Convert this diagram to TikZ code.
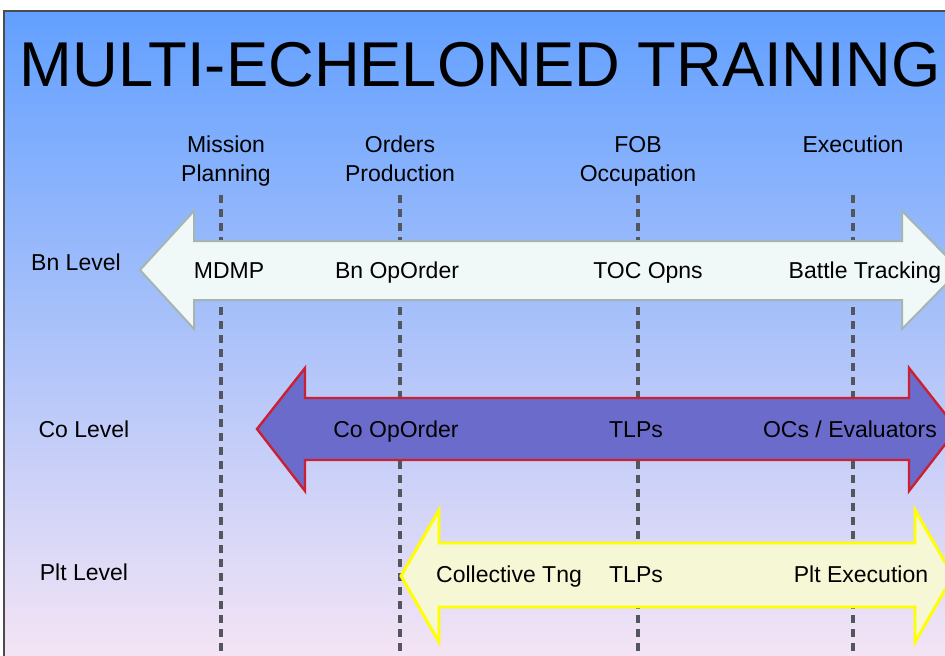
\documentclass[tikz,border=0pt]{standalone}
\usepackage{fontspec}
\setmainfont{Liberation Sans}
\usepackage{tikz}

\definecolor{bgtop}{RGB}{98,160,255}
\definecolor{bgmid}{RGB}{152,198,248}
\definecolor{bgbot}{RGB}{244,228,245}
\definecolor{linegray}{RGB}{84,86,94}
\definecolor{bnfill}{RGB}{240,248,248}
\definecolor{bnedge}{RGB}{165,182,176}
\definecolor{cofill}{RGB}{107,107,204}
\definecolor{coedge}{RGB}{204,32,48}
\definecolor{pltfill}{RGB}{245,247,213}
\definecolor{pltedge}{RGB}{255,255,0}

\begin{document}
\begin{tikzpicture}[x=0.75pt, y=-0.75pt]
  \tikzset{txt/.style={font=\fontsize{17.25}{21.75}\selectfont, inner sep=0pt},
           phase/.style={txt, align=center, anchor=north},
           level/.style={txt, anchor=base},
           task/.style={txt, anchor=base},
           timeline/.style={draw=linegray, line width=2.3pt, dash pattern=on 6pt off 4.5pt},
           bnarrow/.style={fill=bnfill, draw=bnedge, line width=1.5pt},
           coarrow/.style={fill=cofill, draw=coedge, line width=1.8pt},
           pltarrow/.style={fill=pltfill, draw=pltedge, line width=2.2pt}}
  \useasboundingbox[fill=white] (0,0) rectangle (945,656);
  \begin{scope}
    \clip (4,11) rectangle (945,656);
    \fill[top color=bgtop, middle color=bgmid, bottom color=bgbot] (4,11) rectangle (945,656);
    % time lines
    \foreach \x in {221,400,638,853}
      \draw[timeline] (\x,195) -- (\x,656);
    % echelon arrows
    \draw[bnarrow] (140,270) -- (194,211) -- (194,241) -- (902,241) -- (902,211) -- (960,270)
                   -- (902,329) -- (902,300) -- (194,300) -- (194,329) -- cycle;
    \draw[coarrow] (257,429) -- (305,368) -- (305,398) -- (909,398) -- (909,368) -- (957,429)
                   -- (909,491) -- (909,460) -- (305,460) -- (305,491) -- cycle;
    \draw[pltarrow] (401,576) -- (439,510) -- (439,543) -- (915,543) -- (915,510) -- (953,576)
                    -- (915,642) -- (915,607) -- (439,607) -- (439,642) -- cycle;
  \end{scope}
  \draw[draw=black!70, line width=1.1pt] (4,656) -- (4,11) -- (945,11);

  \node[anchor=base, inner sep=0pt, font=\fontsize{47.5}{50}\selectfont] (title) at (480,87) {MULTI-ECHELONED TRAINING};

  \node[phase] (mission) at (226,136) {Mission\\Planning};
  \node[phase] (orders) at (400,136) {Orders\\Production};
  \node[phase] (fob) at (638,136) {FOB\\Occupation};
  \node[phase] (execution) at (853,136) {Execution};

  \node[level] (bnlevel) at (76,270) {Bn Level};
  \node[level] (colevel) at (84,437) {Co Level};
  \node[level] (pltlevel) at (84,580) {Plt Level};

  \node[task] (mdmp) at (229,278) {MDMP};
  \node[task] (bnorder) at (397,278) {Bn OpOrder};
  \node[task] (tocopns) at (648,278) {TOC Opns};
  \node[task] (battletrack) at (865,278) {Battle Tracking};

  \node[task] (coorder) at (396,437) {Co OpOrder};
  \node[task] (cotlps) at (636,437) {TLPs};
  \node[task] (ocs) at (850,437) {OCs / Evaluators};

  \node[task] (colltng) at (509,582) {Collective Tng};
  \node[task] (plttlps) at (636,582) {TLPs};
  \node[task] (pltexec) at (861,582) {Plt Execution};
\end{tikzpicture}
\end{document}
